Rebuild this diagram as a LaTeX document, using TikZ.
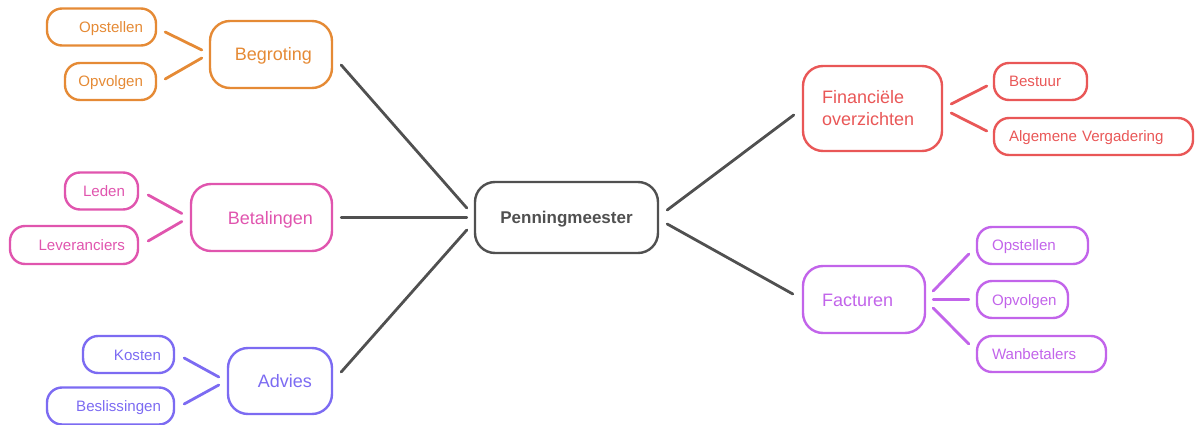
\documentclass[tikz,border=0pt]{standalone}
\usepackage{fontspec}
\setmainfont{Liberation Sans}
\usepackage{tikz}
\usetikzlibrary{shapes.misc}

\definecolor{cOrange}{RGB}{229,138,53}
\definecolor{cRed}{RGB}{233,87,87}
\definecolor{cPink}{RGB}{224,85,174}
\definecolor{cBlue}{RGB}{124,107,242}
\definecolor{cPurple}{RGB}{194,100,234}
\definecolor{cDark}{RGB}{80,80,80}

\begin{document}
\begin{tikzpicture}[x=1pt, y=-1pt,
  box/.style={draw, line width=2.4pt, rounded corners=20pt, text height=13pt, text depth=0pt,
    font=\fontsize{18}{22}\selectfont},
  leaf/.style={draw, line width=2.4pt, rounded corners=15pt, text height=11pt, text depth=0pt,
    font=\fontsize{15.1}{18}\selectfont},
  link/.style={line width=2.8pt, line cap=round}]
\useasboundingbox (0,0) rectangle (1195,425);

% centre
\node[box, cDark, text=cDark, minimum height=71pt, text width=163pt, inner xsep=10pt, align=center,
  text height=12.3pt, font=\fontsize{17}{20}\selectfont\bfseries] (boss) at (566.5,217.5) {Penningmeester};

% Begroting
\node[box, cOrange, minimum height=67pt, text width=82pt, inner xsep=20pt, align=right] (begroting) at (271,54.5) {Begroting};
\node[leaf, cOrange, minimum height=37pt, text width=83pt, inner xsep=13pt, align=right] (bopstellen) at (101.5,27) {Opstellen};
\node[leaf, cOrange, minimum height=37pt, text width=65pt, inner xsep=13pt, align=right] (bopvolgen) at (110.5,81.5) {Opvolgen};

% Betalingen
\node[box, cPink, minimum height=67pt, text width=103pt, inner xsep=19pt, align=right] (betalingen) at (261.5,217.5) {Betalingen};
\node[leaf, cPink, minimum height=37pt, text width=47pt, inner xsep=13pt, align=right] (leden) at (101.5,191) {Leden};
\node[leaf, cPink, minimum height=38pt, text width=102pt, inner xsep=13pt, align=right] (leveranciers) at (74,245) {Leveranciers};

% Advies
\node[box, cBlue, minimum height=66pt, text width=64pt, inner xsep=20pt, align=right] (advies) at (280,381) {Advies};
\node[leaf, cBlue, minimum height=37pt, text width=65pt, inner xsep=13pt, align=right] (kosten) at (128.5,354.5) {Kosten};
\node[leaf, cBlue, minimum height=37pt, text width=101pt, inner xsep=13pt, align=right] (beslissingen) at (110.5,406) {Beslissingen};

% Financiele overzichten
\node[box, cRed, minimum height=85pt, text width=101pt, inner xsep=19pt, align=left,
  text height=13pt, text depth=22pt] (financieel) at (872.5,108.5) {Financiële\\overzichten};
\node[leaf, cRed, minimum height=37pt, text width=63pt, inner xsep=15pt, align=left] (bestuur) at (1040.5,81.5) {Bestuur};
\node[leaf, cRed, minimum height=37pt, text width=169pt, inner xsep=15pt, align=left] (algemeen) at (1093.5,136.5) {Algemene Vergadering};

% Facturen
\node[box, cPurple, minimum height=67pt, text width=84pt, inner xsep=19pt, align=left] (facturen) at (864,299.5) {Facturen};
\node[leaf, cPurple, minimum height=37pt, text width=81pt, inner xsep=15pt, align=left] (fopstellen) at (1032.5,245.5) {Opstellen};
\node[leaf, cPurple, minimum height=37pt, text width=61pt, inner xsep=15pt, align=left] (fopvolgen) at (1022.5,299.5) {Opvolgen};
\node[leaf, cPurple, minimum height=36pt, text width=99pt, inner xsep=15pt, align=left] (wanbetalers) at (1041.5,354) {Wanbetalers};

% main branches
\draw[link, cDark] ([shift={(8,10.5)}]begroting.east) -- ([shift={(-7,-9.5)}]boss.west);
\draw[link, cDark] ([shift={(8,0)}]betalingen.east) -- ([shift={(-7,0)}]boss.west);
\draw[link, cDark] ([shift={(8,-9)}]advies.east) -- ([shift={(-7,12.5)}]boss.west);
\draw[link, cDark] ([shift={(8,-7.5)}]boss.east) -- ([shift={(-8,6.5)}]financieel.west);
\draw[link, cDark] ([shift={(8,6.5)}]boss.east) -- ([shift={(-9,-5.5)}]facturen.west);

% sub branches
\draw[link, cOrange] ([shift={(8,5)}]bopstellen.east) -- ([shift={(-7,-4.5)}]begroting.west);
\draw[link, cOrange] ([shift={(8,-2.5)}]bopvolgen.east) -- ([shift={(-7,3.5)}]begroting.west);
\draw[link, cPink] ([shift={(9,4)}]leden.east) -- ([shift={(-8,-4)}]betalingen.west);
\draw[link, cPink] ([shift={(9,-4)}]leveranciers.east) -- ([shift={(-8,4)}]betalingen.west);
\draw[link, cBlue] ([shift={(9,3.5)}]kosten.east) -- ([shift={(-8,-4)}]advies.west);
\draw[link, cBlue] ([shift={(9,-2)}]beslissingen.east) -- ([shift={(-8,4)}]advies.west);
\draw[link, cRed] ([shift={(8,-4.5)}]financieel.east) -- ([shift={(-6,4.5)}]bestuur.west);
\draw[link, cRed] ([shift={(8,4.5)}]financieel.east) -- ([shift={(-6,-5.5)}]algemeen.west);
\draw[link, cPurple] ([shift={(7,-8.5)}]facturen.east) -- ([shift={(-7,8.5)}]fopstellen.west);
\draw[link, cPurple] ([shift={(7,0)}]facturen.east) -- ([shift={(-7,0)}]fopvolgen.west);
\draw[link, cPurple] ([shift={(7,8.5)}]facturen.east) -- ([shift={(-7,-10)}]wanbetalers.west);
\end{tikzpicture}
\end{document}
